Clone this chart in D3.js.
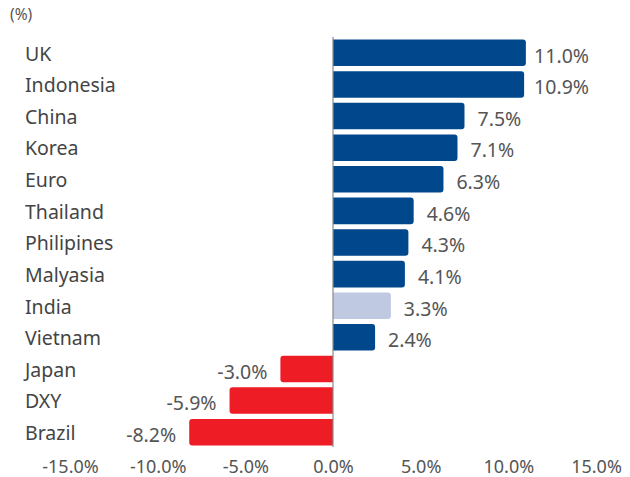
<!DOCTYPE html>
<html><head><meta charset="utf-8">
<script src="https://cdn.jsdelivr.net/npm/d3@7"></script>
<style>body{margin:0;background:#fff;} svg{display:block;} text{font-family:"Noto Sans",sans-serif;}</style>
</head><body>
<svg id="c" width="630" height="477"></svg>
<script>
const categories = ["UK","Indonesia","China","Korea","Euro","Thailand","Philipines","Malyasia","India","Vietnam","Japan","DXY","Brazil"];
const values = [11.0,10.9,7.5,7.1,6.3,4.6,4.3,4.1,3.3,2.4,-3.0,-5.9,-8.2];
const highlight = ["India"];
const ticks = [-15,-10,-5,0,5,10,15];

const svg = d3.select("#c");
const x = d3.scaleLinear().domain([-15,15]).range([70,596]);
const y = d3.scaleBand().domain(categories).range([37,448]).paddingInner(0.16).paddingOuter(0.08);
const color = (c,v) => highlight.includes(c) ? "#bfc9e1" : (v<0 ? "#ee1c25" : "#00478c");

svg.append("text").attr("x",10).attr("y",20).attr("font-size",15.5).attr("fill","#555").text("(%)");

svg.selectAll("path.bar").data(categories).join("path")
  .attr("fill",(c,i)=>color(c,values[i]))
  .attr("d",(c,i)=>{
    const v=values[i], x0=x(0), x1=x(v), y0=y(c), h=y.bandwidth(), r=3;
    const p=d3.path();
    if(v>=0){
      p.moveTo(x0,y0); p.lineTo(x1-r,y0); p.arcTo(x1,y0,x1,y0+r,r);
      p.lineTo(x1,y0+h-r); p.arcTo(x1,y0+h,x1-r,y0+h,r); p.lineTo(x0,y0+h); p.closePath();
    } else {
      p.moveTo(x0,y0); p.lineTo(x1+r,y0); p.arcTo(x1,y0,x1,y0+r,r);
      p.lineTo(x1,y0+h-r); p.arcTo(x1,y0+h,x1+r,y0+h,r); p.lineTo(x0,y0+h); p.closePath();
    }
    return p.toString();
  });

svg.append("line").attr("x1",x(0)).attr("x2",x(0)).attr("y1",37).attr("y2",447)
  .attr("stroke","#8a8a8a").attr("stroke-width",1.2);

svg.selectAll("text.cat").data(categories).join("text")
  .attr("x",25).attr("y",c=>y(c)+y.bandwidth()/2+1).attr("dy","0.35em")
  .attr("font-size",19.5).attr("fill","#444").text(c=>c);

const vals = svg.selectAll("text.val").data(categories).join("text")
  .attr("text-anchor",(c,i)=>values[i]>=0?"start":"end")
  .attr("y",c=>y(c)+y.bandwidth()/2+3).attr("dy","0.35em")
  .attr("font-size",19.5).attr("fill","#555").text((c,i)=>values[i].toFixed(1)+"%");
vals.each(function(c,i){
  const v=values[i];
  if(v>=0){
    const w=this.getComputedTextLength();
    d3.select(this).attr("x", Math.min(x(v)+13, 589-w));
  } else {
    d3.select(this).attr("x", x(v)-13);
  }
});

const ax = svg.append("g").attr("transform","translate(0,457)")
  .call(d3.axisBottom(x).tickValues(ticks).tickSize(0).tickFormat(d=>d.toFixed(1)+"%"));
ax.select(".domain").remove();
ax.selectAll("text").attr("font-size",18).attr("fill","#555").attr("font-family","Noto Sans, sans-serif");
</script>
</body></html>
